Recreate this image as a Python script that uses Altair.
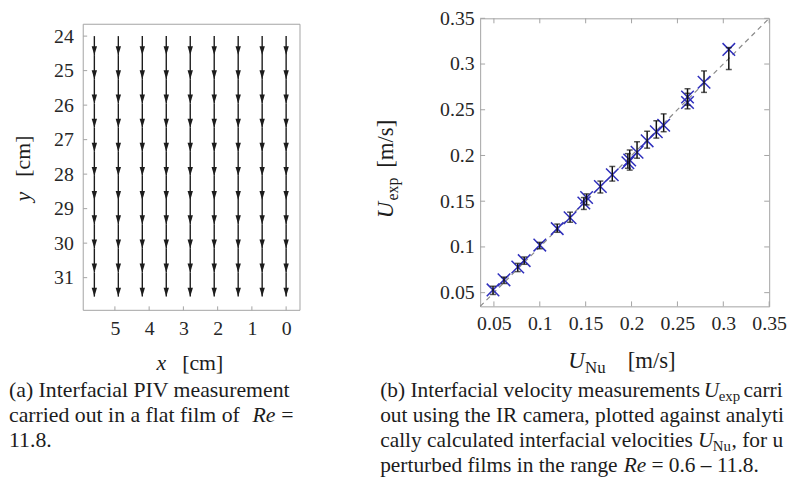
import altair as alt
import pandas as pd

FONT = "Liberation Serif"
INK = "#1c1c1c"
LABEL = "#262626"
FRAME = "#a3a3a3"

# ---------------- panel (a): interfacial PIV vector field ----------------
COL_X = [0.0, 0.7, 1.4, 2.1, 2.8, 3.5, 4.2, 4.9, 5.6]
ARROW_Y0 = [24.0, 24.55, 25.25, 25.95, 26.65, 27.35, 28.05, 28.75, 29.45, 30.15, 30.85]
ARROW_Y1 = [24.55, 25.25, 25.95, 26.65, 27.35, 28.05, 28.75, 29.45, 30.15, 30.85, 31.55]
A_XTICKS = [0, 1, 2, 3, 4, 5]
A_YTICKS = [24, 25, 26, 27, 28, 29, 30, 31]
A_XDOMAIN = [-0.405, 5.925]
A_YDOMAIN = [23.484, 31.947]

# ---------------- panel (b): U_exp vs U_Nu ----------------
U_NU = [0.049, 0.061, 0.076, 0.083, 0.100, 0.119, 0.133, 0.148, 0.151, 0.166, 0.179,
        0.196, 0.198, 0.206, 0.217, 0.227, 0.235, 0.261, 0.261, 0.279, 0.306]
U_EXP = [0.053, 0.064, 0.078, 0.085, 0.102, 0.120, 0.132, 0.148, 0.154, 0.166, 0.179,
         0.192, 0.195, 0.2035, 0.216, 0.226, 0.233, 0.264, 0.258, 0.280, 0.316]
ERR_LO = [0.048, 0.060, 0.073, 0.081, 0.098, 0.116, 0.127, 0.141, 0.146, 0.159, 0.172,
          0.186, 0.184, 0.197, 0.208, 0.219, 0.226, 0.255, 0.251, 0.269, 0.294]
ERR_HI = [0.057, 0.067, 0.082, 0.089, 0.105, 0.125, 0.138, 0.154, 0.158, 0.172, 0.188,
          0.202, 0.206, 0.215, 0.2265, 0.238, 0.2455, 0.273, 0.268, 0.2925, 0.318]
B_TICKS = [0.05, 0.1, 0.15, 0.2, 0.25, 0.3, 0.35]
B_DOMAIN = [0.035, 0.35]
DIAG = [0.035, 0.35]

# ---------------- texts ----------------
A_XTITLE = ["x", "[cm]"]
A_YTITLE = ["y", "[cm]"]
B_YTITLE = ["U", "exp", "[m/s]"]
B_XTITLE = ["U", "Nu", "[m/s]"]
CAP_A = ["(a) Interfacial PIV measurement", "carried out in a flat film of", "Re", "=", "11.8."]
CAP_B = ["(b) Interfacial velocity measurements", "U", "exp", "carried",
         "out using the IR camera, plotted against analyti-",
         "cally calculated interfacial velocities", "U", "Nu", ", for un-",
         "perturbed films in the range", "Re", "= 0.6 \u2013 11.8."]

W_A, H_A = 219, 295
W_B, H_B = 292, 291
ORIG_A = (83, 15)   # page position of panel (a) plot-area origin
ORIG_B = (484, 15)  # page position of panel (b) plot area

ONE = pd.DataFrame({"k": [0]})


def seg(text, px, py, orig, size=22, style="normal", angle=None, limit=None):
    kw = dict(text=text, font=FONT, fontSize=size, fontStyle=style, align="left",
              baseline="alphabetic", color=INK)
    if angle is not None:
        kw["angle"] = angle
    if limit is not None:
        kw["limit"] = limit
        kw["ellipsis"] = "\u200b"
    return alt.Chart(ONE).mark_text(**kw).encode(
        x=alt.value(px - orig[0]), y=alt.value(py - orig[1]))


ax_common = dict(labelFont=FONT, labelFontSize=20, labelColor=LABEL, ticks=False, tickSize=0,
                 domain=False, grid=False, title=None, labelFlush=False, labelOverlap=False)

# ---------------- panel (a) ----------------
xA = alt.Scale(domain=A_XDOMAIN, reverse=True, nice=False, zero=False)
yA = alt.Scale(domain=A_YDOMAIN, reverse=True, nice=False, zero=False)
axAx = alt.Axis(values=A_XTICKS, format="d", labelPadding=8, **ax_common)
axAy = alt.Axis(values=A_YTICKS, format="d", labelPadding=10, **ax_common)

arrows = pd.DataFrame([(x, y0, y1) for x in COL_X for y0, y1 in zip(ARROW_Y0, ARROW_Y1)],
                      columns=["x", "y0", "y1"])

frame_a = alt.Chart(ONE).mark_rect(fill="white", stroke=FRAME, strokeWidth=1).encode(
    x=alt.value(0), x2=alt.value(W_A), y=alt.value(6), y2=alt.value(H_A))
shafts = alt.Chart(arrows).mark_rule(color=INK, strokeWidth=1.4).encode(
    x=alt.X("x:Q", scale=xA, axis=axAx),
    y=alt.Y("y0:Q", scale=yA, axis=axAy),
    y2="y1:Q",
)
heads = alt.Chart(arrows).mark_point(shape="M0,0L-0.6,-2L0.6,-2Z", filled=True, size=81,
                                     color=INK, opacity=1).encode(
    x=alt.X("x:Q", scale=xA, axis=axAx),
    y=alt.Y("y1:Q", scale=yA, axis=axAy),
)
a_xt = alt.Chart(pd.DataFrame({"v": A_XTICKS})).mark_rule(color=FRAME, strokeWidth=1).encode(
    x=alt.X("v:Q", scale=xA, axis=axAx), y=alt.value(H_A), y2=alt.value(H_A - 4))
a_yt = alt.Chart(pd.DataFrame({"v": A_YTICKS})).mark_rule(color=FRAME, strokeWidth=1).encode(
    y=alt.Y("v:Q", scale=yA, axis=axAy), x=alt.value(0), x2=alt.value(4))

a_texts = [
    seg(A_XTITLE[0], 157, 370, ORIG_A, size=22, style="italic"),
    seg(A_XTITLE[1], 183, 370, ORIG_A, size=22),
    seg(A_YTITLE[0], 29, 200, ORIG_A, size=22, style="italic", angle=270),
    seg(A_YTITLE[1], 29, 175, ORIG_A, size=22, angle=270),
    seg(CAP_A[0], 8, 398, ORIG_A),
    seg(CAP_A[1], 8, 423, ORIG_A),
    seg(CAP_A[2], 254, 423, ORIG_A, style="italic"),
    seg(CAP_A[3], 283, 423, ORIG_A),
    seg(CAP_A[4], 8, 448, ORIG_A),
]

panel_a = alt.layer(frame_a, shafts, heads, a_xt, a_yt, *a_texts).properties(
    width=W_A, height=H_A, view={"stroke": "transparent"})

# ---------------- panel (b) ----------------
xB = alt.Scale(domain=B_DOMAIN, nice=False, zero=False)
yB = alt.Scale(domain=B_DOMAIN, nice=False, zero=False)
axBx = alt.Axis(values=B_TICKS, format="~g", labelPadding=7, **ax_common)
axBy = alt.Axis(values=B_TICKS, format="~g", labelPadding=6, **ax_common)

pts = pd.DataFrame({"unu": U_NU, "uexp": U_EXP, "lo": ERR_LO, "hi": ERR_HI})

diag = alt.Chart(pd.DataFrame({"d": DIAG})).mark_line(
    color="#8a8a8a", strokeDash=[5, 4], strokeWidth=1.2).encode(
    x=alt.X("d:Q", scale=xB, axis=axBx),
    y=alt.Y("d:Q", scale=yB, axis=axBy),
)
marks_x = alt.Chart(pts).mark_point(shape="M-1,-1L1,1M-1,1L1,-1", filled=False, size=160,
                                    color="#2f2fbd", strokeWidth=1.5, opacity=1).encode(
    x=alt.X("unu:Q", scale=xB, axis=axBx), y=alt.Y("uexp:Q", scale=yB, axis=axBy))
bars = alt.Chart(pts).mark_rule(color="#111111", strokeWidth=1.5).encode(
    x=alt.X("unu:Q", scale=xB, axis=axBx), y=alt.Y("lo:Q", scale=yB, axis=axBy), y2="hi:Q")
cap_lo = alt.Chart(pts).mark_tick(orient="horizontal", size=6, thickness=1.5, color="#111111").encode(
    x=alt.X("unu:Q", scale=xB, axis=axBx), y=alt.Y("lo:Q", scale=yB, axis=axBy))
cap_hi = alt.Chart(pts).mark_tick(orient="horizontal", size=6, thickness=1.5, color="#111111").encode(
    x=alt.X("unu:Q", scale=xB, axis=axBx), y=alt.Y("hi:Q", scale=yB, axis=axBy))

tk = pd.DataFrame({"v": B_TICKS})
b_ticks = [
    alt.Chart(tk).mark_rule(color=FRAME).encode(x=alt.X("v:Q", scale=xB, axis=axBx),
                                                y=alt.value(H_B), y2=alt.value(H_B - 5)),
    alt.Chart(tk).mark_rule(color=FRAME).encode(x=alt.X("v:Q", scale=xB, axis=axBx),
                                                y=alt.value(0), y2=alt.value(5)),
    alt.Chart(tk).mark_rule(color=FRAME).encode(y=alt.Y("v:Q", scale=yB, axis=axBy),
                                                x=alt.value(0), x2=alt.value(5)),
    alt.Chart(tk).mark_rule(color=FRAME).encode(y=alt.Y("v:Q", scale=yB, axis=axBy),
                                                x=alt.value(W_B), x2=alt.value(W_B - 5)),
]

# white spacer fixing the left extent of panel (b) for the concat layout
spacer_b = alt.Chart(ONE).mark_rule(color="white", strokeWidth=1).encode(
    x=alt.value(-110), y=alt.value(240), y2=alt.value(241))

RIGHT = 795
CS = 21.6
b_texts = [
    seg(B_YTITLE[0], 396, 217, ORIG_B, size=23, style="italic", angle=270),
    seg(B_YTITLE[1], 401, 199, ORIG_B, size=16, angle=270),
    seg(B_YTITLE[2], 396, 166, ORIG_B, size=23, angle=270),
    seg(B_XTITLE[0], 573, 368, ORIG_B, size=23, style="italic"),
    seg(B_XTITLE[1], 590, 373, ORIG_B, size=17),
    seg(B_XTITLE[2], 633, 368, ORIG_B, size=23),
    seg(CAP_B[0], 383, 398, ORIG_B, size=CS),
    seg(CAP_B[1], 710, 398, ORIG_B, size=CS, style="italic"),
    seg(CAP_B[2], 725, 402, ORIG_B, size=15),
    seg(CAP_B[3], 750, 398, ORIG_B, size=CS, limit=RIGHT - 750),
    seg(CAP_B[4], 383, 423, ORIG_B, size=CS, limit=RIGHT - 383),
    seg(CAP_B[5], 383, 448, ORIG_B, size=CS),
    seg(CAP_B[6], 704, 448, ORIG_B, size=CS, style="italic"),
    seg(CAP_B[7], 719, 452, ORIG_B, size=15),
    seg(CAP_B[8], 738, 448, ORIG_B, size=CS, limit=RIGHT - 738),
    seg(CAP_B[9], 383, 473, ORIG_B, size=CS),
    seg(CAP_B[10], 629, 473, ORIG_B, size=CS, style="italic"),
    seg(CAP_B[11], 657, 473, ORIG_B, size=CS),
]

panel_b = alt.layer(spacer_b, diag, *b_ticks, marks_x, bars, cap_lo, cap_hi, *b_texts).properties(
    width=W_B, height=H_B)

chart = alt.hconcat(panel_a, panel_b, spacing=70).configure_view(
    stroke=FRAME, strokeWidth=1).properties(
    padding={"top": -3, "left": 0, "right": 0, "bottom": 0}, background="white")

chart.save("out.html", embed_options={"renderer": "svg", "actions": False})
